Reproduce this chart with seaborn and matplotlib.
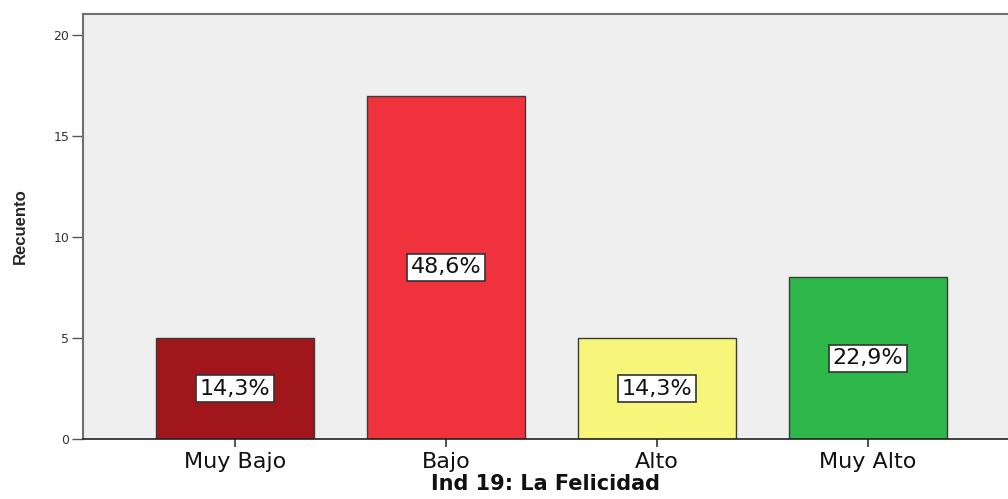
import pandas as pd
import matplotlib.pyplot as plt
import seaborn as sns

# Data
categorias = ['Muy Bajo', 'Bajo', 'Alto', 'Muy Alto']
recuento = [5, 17, 5, 8]
colores = ['#A0161A', '#F0323C', '#F8F67A', '#2EB84A']
y_ticks = [0, 5, 10, 15, 20]

df = pd.DataFrame({'Categoria': categorias, 'Recuento': recuento})
total = sum(recuento)
porcentajes = [f"{v / total * 100:.1f}%".replace('.', ',') for v in recuento]

sns.set_style('white')
plt.rcParams['font.family'] = ['DejaVu Sans']

fig = plt.figure(figsize=(10.08, 4.99), dpi=100)
ax = fig.add_axes([0.0823, 0.1202, 0.9177, 0.852])
ax.set_facecolor('#EFEFEF')

sns.barplot(data=df, x='Categoria', y='Recuento', hue='Categoria',
            palette=colores, saturation=1, width=0.75, edgecolor='#3A3A3A',
            linewidth=1.0, legend=False, ax=ax)

# Percent boxes in the middle of each bar
for cont, lab in zip(ax.containers, porcentajes):
    ax.bar_label(cont, labels=[lab], label_type='center', fontsize=16,
                 color='#111111',
                 bbox=dict(facecolor='white', edgecolor='#333333', linewidth=1.2,
                           boxstyle='square,pad=0.15'))

ax.set_xlim(-0.72, 3.663)
ax.set_ylim(0, 21.04)
ax.set_yticks(y_ticks)
ax.set_yticklabels([str(t) for t in y_ticks], fontsize=9, color='#333333')
ax.tick_params(axis='y', which='both', left=True, length=8, width=1,
               color='#555555', pad=2)
ax.tick_params(axis='x', which='both', bottom=True, length=6, width=1.2,
               color='#333333', pad=3, labelsize=16, labelcolor='#111111')

ax.set_ylabel('Recuento', fontsize=12, fontweight='bold',
              family=['Liberation Sans Narrow', 'Liberation Sans'], labelpad=18)
ax.set_xlabel('Ind 19: La Felicidad', fontsize=15, fontweight='bold',
              labelpad=2, color='#111111')

for side in ['top', 'left']:
    ax.spines[side].set_color('#707070')
    ax.spines[side].set_linewidth(1.5)
ax.spines['bottom'].set_color('#222222')
ax.spines['bottom'].set_linewidth(1.2)
ax.spines['right'].set_visible(False)

plt.savefig('out.png', dpi=100)
plt.close()
